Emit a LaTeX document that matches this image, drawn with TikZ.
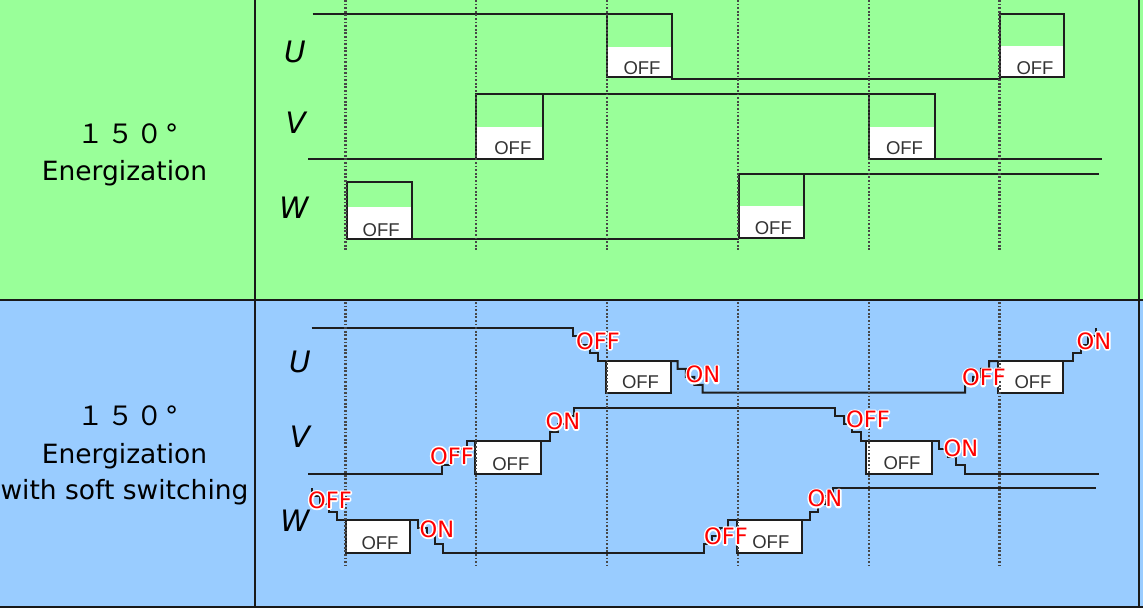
\documentclass[tikz,border=0pt]{standalone}
\usepackage{fontspec}
\setmainfont{DejaVu Sans}
\newfontfamily\lib{Liberation Sans}
\newfontfamily\cjk{Noto Sans CJK JP}
\definecolor{bggreen}{HTML}{99FF99}
\definecolor{bgblue}{HTML}{99CCFF}
\definecolor{ink}{HTML}{1E1E1E}
\def\st#1#2{-- ++(0,#2) -- ++(#1,0) -- ++(0,#2) -- ++(#1,0) -- ++(0,#2) -- ++(#1,0) -- ++(0,#2)}
\newcommand\halotext[1]{\leavevmode\rlap{\color{white}\special{pdf:literal direct 3.2 w 1 j 1 J 1 Tr}#1\special{pdf:literal direct 0 Tr}}\textcolor{red}{#1}}
\tikzset{
 wave/.style={draw=ink, line width=2pt, line join=miter},
 framel/.style={draw=black!90, line width=2.3pt},
 gridline/.style={draw=black!72, line width=2.2pt, dash pattern=on 1.8pt off 1.8pt},
 boxtxt/.style={font=\lib\fontsize{18.5}{20}\selectfont, text=black!80, anchor=base, inner sep=0pt},
 redlbl/.style={font=\fontsize{22.5}{24}\selectfont, anchor=base, inner sep=0pt},
 phase/.style={font=\fontsize{29.5}{32}\selectfont\itshape, anchor=base, inner sep=0pt},
 lefttxt/.style={font=\fontsize{26.5}{30}\selectfont, anchor=base, inner sep=0pt},
}
\begin{document}
\begin{tikzpicture}[x=1pt,y=-1pt]
\useasboundingbox (0,0) rectangle (1143,614);
% backgrounds
\fill[white] (0,0) rectangle (1143,614);
\fill[bggreen] (0,0) rectangle (1143,300);
\fill[bgblue] (0,300) rectangle (1143,607.3);
% frame
\draw[framel] (0,300) -- (1143,300);
\draw[framel] (0,607.3) -- (1143,607.3);
\draw[framel] (255,0) -- (255,607.3);
\draw[framel] (1139,0) -- (1139,607.3);

% left texts
\node[lefttxt] (t1a) at (128,143) {{\cjk １\kern3pt５\kern3pt０}\kern2pt°};
\node[lefttxt] (t1b) at (124.5,180) {Energization};
\node[lefttxt] (t2a) at (128,425) {{\cjk １\kern3pt５\kern3pt０}\kern2pt°};
\node[lefttxt] (t2b) at (124.5,463) {Energization};
\node[lefttxt] (t2c) at (124.5,499) {with soft switching};

% phase labels
\node[phase] (u1) at (295,62) {U};
\node[phase] (v1) at (295.7,133) {V};
\node[phase] (w1) at (294,218) {W};
\node[phase] (u2) at (300,372) {U};
\node[phase] (v2) at (300,447) {V};
\node[phase] (w2) at (295,531) {W};

% ---------- top panel ----------
\fill[white] (607,46.5) rectangle (672,77.3);
\fill[white] (1000,45.5) rectangle (1064,77.3);
\fill[white] (476,127) rectangle (542.7,159.3);
\fill[white] (869,127) rectangle (935,159.3);
\fill[white] (346.7,207.3) rectangle (411.7,239);
\fill[white] (738.7,205.7) rectangle (803.7,238);
% U
\draw[wave] (312.7,14) -- (672,14) -- (672,79) -- (1000,79) -- (1000,14) -- (1064,14);
\draw[wave] (607,14) rectangle (672,77.3);
\draw[wave] (1000,14) rectangle (1064,77.3);
% V
\draw[wave] (308,159.3) -- (476,159.3) -- (476,94.3) -- (869,94.3);
\draw[wave] (935,159.3) -- (1101.7,159.3);
\draw[wave] (476,94.3) rectangle (542.7,159.3);
\draw[wave] (869,94.3) rectangle (935,159.3);
% W
\draw[wave] (346.7,181.7) rectangle (411.7,239);
\draw[wave] (411.7,239) -- (738.7,239);
\draw[wave] (738.7,174.3) rectangle (803.7,238);
\draw[wave] (803.7,174.3) -- (1099,174.3);
% OFF texts
\node[boxtxt] (ou1) at (642,74) {OFF};
\node[boxtxt] (ou2) at (1035,74) {OFF};
\node[boxtxt] (ov1) at (512.8,154.5) {OFF};
\node[boxtxt] (ov2) at (904.5,154.5) {OFF};
\node[boxtxt] (ow1) at (381.2,236) {OFF};
\node[boxtxt] (ow2) at (773.3,234.3) {OFF};

% ---------- bottom panel ----------
% U
\draw[wave] (311.7,328.3) -- (572.7,328.3) \st{8.5}{8.175} -- (606,361);
\draw[wave] (671,361) -- (677.5,361) \st{8.4}{7.925} -- (965,392.7) \st{8}{-7.925} -- (998,361);
\draw[wave] (1063,361) -- (1073,361) \st{7.6}{-8.175};
\filldraw[wave, fill=white] (606,361) rectangle (671,392.7);
\filldraw[wave, fill=white] (998,361) rectangle (1063,392.7);
% V
\draw[wave] (308.3,473.5) -- (441.7,473.5) \st{8.3}{-8.25} -- (475,440.5);
\draw[wave] (540.7,440.5) -- (549.5,440.5) \st{8}{-8.25} -- (835,407.5) \st{8.6}{8.25} -- (866.3,440.5);
\draw[wave] (932.3,440.5) -- (939,440.5) \st{8.6}{8.25} -- (1099,473.5);
\filldraw[wave, fill=white] (475,440.5) rectangle (540.7,473.5);
\filldraw[wave, fill=white] (866.3,440.5) rectangle (932.3,473.5);
% W
\draw[wave] (311.7,488) \st{8.4}{8} -- (345.7,520);
\draw[wave] (410,520) -- (418.3,520) \st{8.3}{8.125} -- (704,552.5) \st{8.1}{-8.125} -- (736.7,520);
\draw[wave] (801.7,520) -- (810,520) \st{7.8}{-8} -- (1096,488);
\filldraw[wave, fill=white] (345.7,520) rectangle (410,552.5);
\filldraw[wave, fill=white] (736.7,520) rectangle (801.7,552.5);
% OFF texts
\node[boxtxt] (bu1) at (640.5,388.3) {OFF};
\node[boxtxt] (bu2) at (1033,388.3) {OFF};
\node[boxtxt] (bv1) at (510.8,470) {OFF};
\node[boxtxt] (bv2) at (902,469.3) {OFF};
\node[boxtxt] (bw1) at (380,549.3) {OFF};
\node[boxtxt] (bw2) at (770.8,548.3) {OFF};

% grid lines
\foreach \gx in {345.5,476.3,607.1,737.9,868.7,999.5}{
  \draw[gridline] (\gx,0) -- (\gx,250);
  \draw[gridline] (\gx,302) -- (\gx,565);
}

% red labels
\node[redlbl] (r1) at (598,349) {\halotext{OFF}};
\node[redlbl] (r2) at (703,382.7) {\halotext{ON}};
\node[redlbl] (r3) at (984,385.7) {\halotext{OFF}};
\node[redlbl] (r4) at (1094,349) {\halotext{ON}};
\node[redlbl] (r5) at (452,464) {\halotext{OFF}};
\node[redlbl] (r6) at (563,429.3) {\halotext{ON}};
\node[redlbl] (r7) at (868,427.7) {\halotext{OFF}};
\node[redlbl] (r8) at (961,456) {\halotext{ON}};
\node[redlbl] (r9) at (330,508.3) {\halotext{OFF}};
\node[redlbl] (r10) at (437,537.3) {\halotext{ON}};
\node[redlbl] (r11) at (726,544.3) {\halotext{OFF}};
\node[redlbl] (r12) at (825,506.7) {\halotext{ON}};
\end{tikzpicture}
\end{document}
